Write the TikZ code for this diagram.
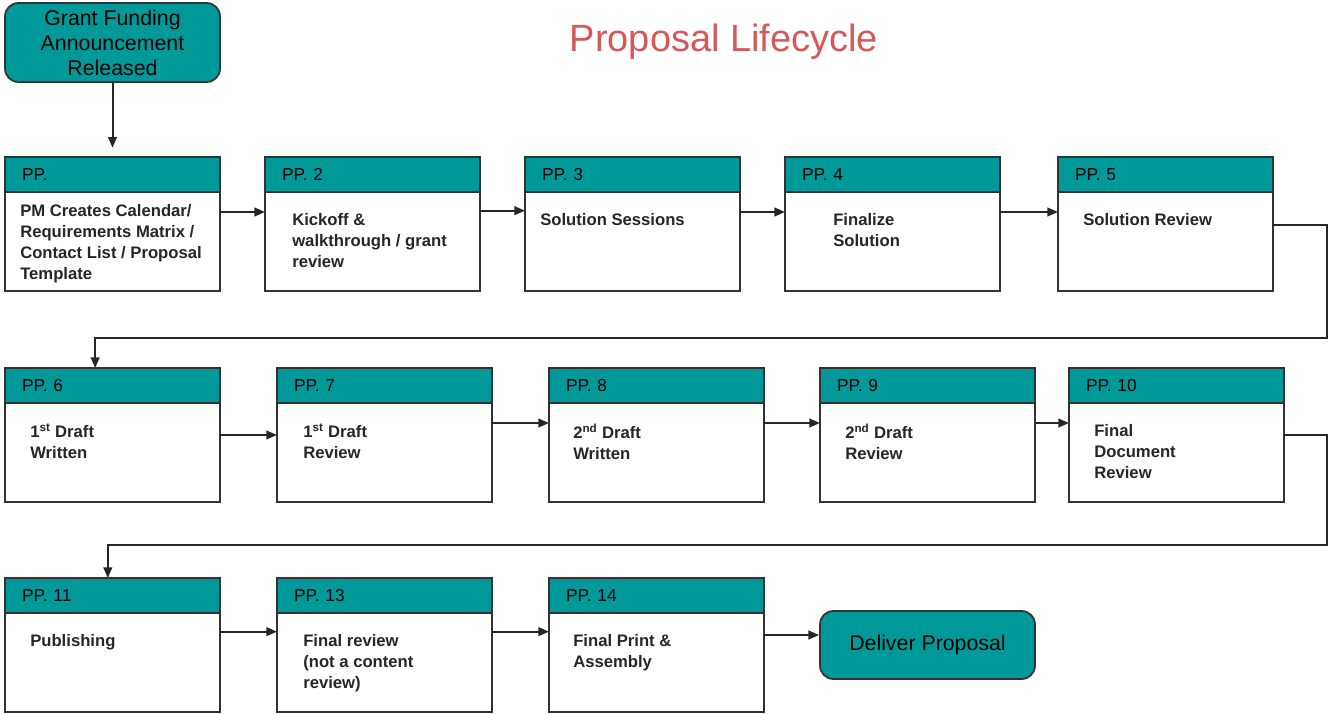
\documentclass[tikz,border=0pt]{standalone}
\usepackage{fontspec}
\setmainfont{Liberation Sans}
\usepackage{xcolor}
\usepackage{tikz}
\usetikzlibrary{arrows.meta,shapes,positioning,calc}
\definecolor{ppteal}{RGB}{0,153,153}
\definecolor{pptitle}{RGB}{214,88,88}

\begin{document}
\begin{tikzpicture}[
    x=0.75pt, y=-0.75pt,
    hd/.style={rectangle, draw=black!80, line width=1.3pt, fill=ppteal, anchor=north west, outer sep=0pt, text width=135.75pt, inner xsep=12.75pt, minimum height=26.25pt, align=left, font=\fontsize{13}{15}\selectfont},
    bd/.style={rectangle, draw=black!80, line width=1.3pt, fill=white, anchor=north west, outer sep=0pt, inner sep=0pt, minimum width=161.25pt, minimum height=74.25pt},
    txt/.style={anchor=north west, align=left, inner sep=0pt, text=black!85, font=\fontsize{12.5}{15.75}\selectfont\bfseries},
    endpt/.style={rectangle, rounded corners=10pt, draw=black!80, line width=1.3pt, fill=ppteal, minimum width=161.25pt, inner ysep=2pt, align=center, font=\fontsize{16}{18.75}\selectfont},
    arr/.style={-{Triangle[length=8pt,width=6.5pt]}, line width=1.5pt, draw=black!85}
]
    \useasboundingbox (0,0) rectangle (1330,714);

    \node[text=pptitle, font=\fontsize{28.5}{32}\selectfont] (title) at (724,42) {Proposal Lifecycle};
    \node[endpt, minimum height=59.25pt] (grant) at (112.5,42.5) {Grant Funding\\Announcement\\Released};

    % row 1
    \node[hd] (hd1) at (5,157) {PP.};
    \node[bd] (bd1) at (hd1.south west) {};
    \node[txt] (t1) at ([shift={(15,12)}]bd1.north west) {PM Creates Calendar/\\Requirements Matrix /\\Contact List / Proposal\\Template};
    \node[hd] (hd2) at (265,157) {PP. 2};
    \node[bd] (bd2) at (hd2.south west) {};
    \node[txt] (t2) at ([shift={(27,21)}]bd2.north west) {Kickoff \&\\walkthrough / grant\\review};
    \node[hd] (hd3) at (525,157) {PP. 3};
    \node[bd] (bd3) at (hd3.south west) {};
    \node[txt] (t3) at ([shift={(15,21)}]bd3.north west) {Solution Sessions};
    \node[hd] (hd4) at (785,157) {PP. 4};
    \node[bd] (bd4) at (hd4.south west) {};
    \node[txt] (t4) at ([shift={(48,21)}]bd4.north west) {Finalize\\Solution};
    \node[hd] (hd5) at (1058,157) {PP. 5};
    \node[bd] (bd5) at (hd5.south west) {};
    \node[txt] (t5) at ([shift={(25,21)}]bd5.north west) {Solution Review};

    % row 2
    \node[hd] (hd6) at (5,368) {PP. 6};
    \node[bd] (bd6) at (hd6.south west) {};
    \node[txt] (t6) at ([shift={(25,21)}]bd6.north west) {1\textsuperscript{st} Draft\\Written};
    \node[hd] (hd7) at (277,368) {PP. 7};
    \node[bd] (bd7) at (hd7.south west) {};
    \node[txt] (t7) at ([shift={(26,21)}]bd7.north west) {1\textsuperscript{st} Draft\\Review};
    \node[hd] (hd8) at (549,368) {PP. 8};
    \node[bd] (bd8) at (hd8.south west) {};
    \node[txt] (t8) at ([shift={(24,21)}]bd8.north west) {2\textsuperscript{nd} Draft\\Written};
    \node[hd] (hd9) at (820,368) {PP. 9};
    \node[bd] (bd9) at (hd9.south west) {};
    \node[txt] (t9) at ([shift={(25,21)}]bd9.north west) {2\textsuperscript{nd} Draft\\Review};
    \node[hd] (hd10) at (1069,368) {PP. 10};
    \node[bd] (bd10) at (hd10.south west) {};
    \node[txt] (t10) at ([shift={(25,21)}]bd10.north west) {Final\\Document\\Review};

    % row 3
    \node[hd] (hd11) at (5,578) {PP. 11};
    \node[bd] (bd11) at (hd11.south west) {};
    \node[txt] (t11) at ([shift={(25,21)}]bd11.north west) {Publishing};
    \node[hd] (hd13) at (277,578) {PP. 13};
    \node[bd] (bd13) at (hd13.south west) {};
    \node[txt] (t13) at ([shift={(26,21)}]bd13.north west) {Final review\\(not a content\\review)};
    \node[hd] (hd14) at (549,578) {PP. 14};
    \node[bd] (bd14) at (hd14.south west) {};
    \node[txt] (t14) at ([shift={(24,21)}]bd14.north west) {Final Print \&\\Assembly};
    \node[endpt, minimum height=51pt] (deliver) at (927.5,645) {Deliver Proposal};

    \coordinate (turn5) at (1327,338);
    \coordinate (turn10) at (1327,545);
    \coordinate (c14) at ([yshift=-16.5pt]bd14.north east);

    \draw[arr, shorten >=7pt] (grant) -- (hd1.north);
    \draw[arr] ([yshift=-15pt]bd1.north east) -- ([yshift=-15pt]bd2.north west);
    \draw[arr] ([yshift=-14pt]bd2.north east) -- ([yshift=-14pt]bd3.north west);
    \draw[arr] ([yshift=-15pt]bd3.north east) -- ([yshift=-15pt]bd4.north west);
    \draw[arr] ([yshift=-15pt]bd4.north east) -- ([yshift=-15pt]bd5.north west);
    \draw[arr] ([yshift=-25pt]bd5.north east) -| (turn5) -| ([xshift=-13pt]hd6.north);
    \draw[arr] ([yshift=-24pt]bd6.north east) -- ([yshift=-24pt]bd7.north west);
    \draw[arr] ([yshift=-15pt]bd7.north east) -- ([yshift=-15pt]bd8.north west);
    \draw[arr] ([yshift=-15pt]bd8.north east) -- ([yshift=-15pt]bd9.north west);
    \draw[arr] ([yshift=-15pt]bd9.north east) -- ([yshift=-15pt]bd10.north west);
    \draw[arr] ([yshift=-24pt]bd10.north east) -| (turn10) -| ([xshift=-3.5pt]hd11.north);
    \draw[arr] ([yshift=-14pt]bd11.north east) -- ([yshift=-14pt]bd13.north west);
    \draw[arr] ([yshift=-14pt]bd13.north east) -- ([yshift=-14pt]bd14.north west);
    \draw[arr] (c14) -- (c14 -| deliver.west);
\end{tikzpicture}
\end{document}
